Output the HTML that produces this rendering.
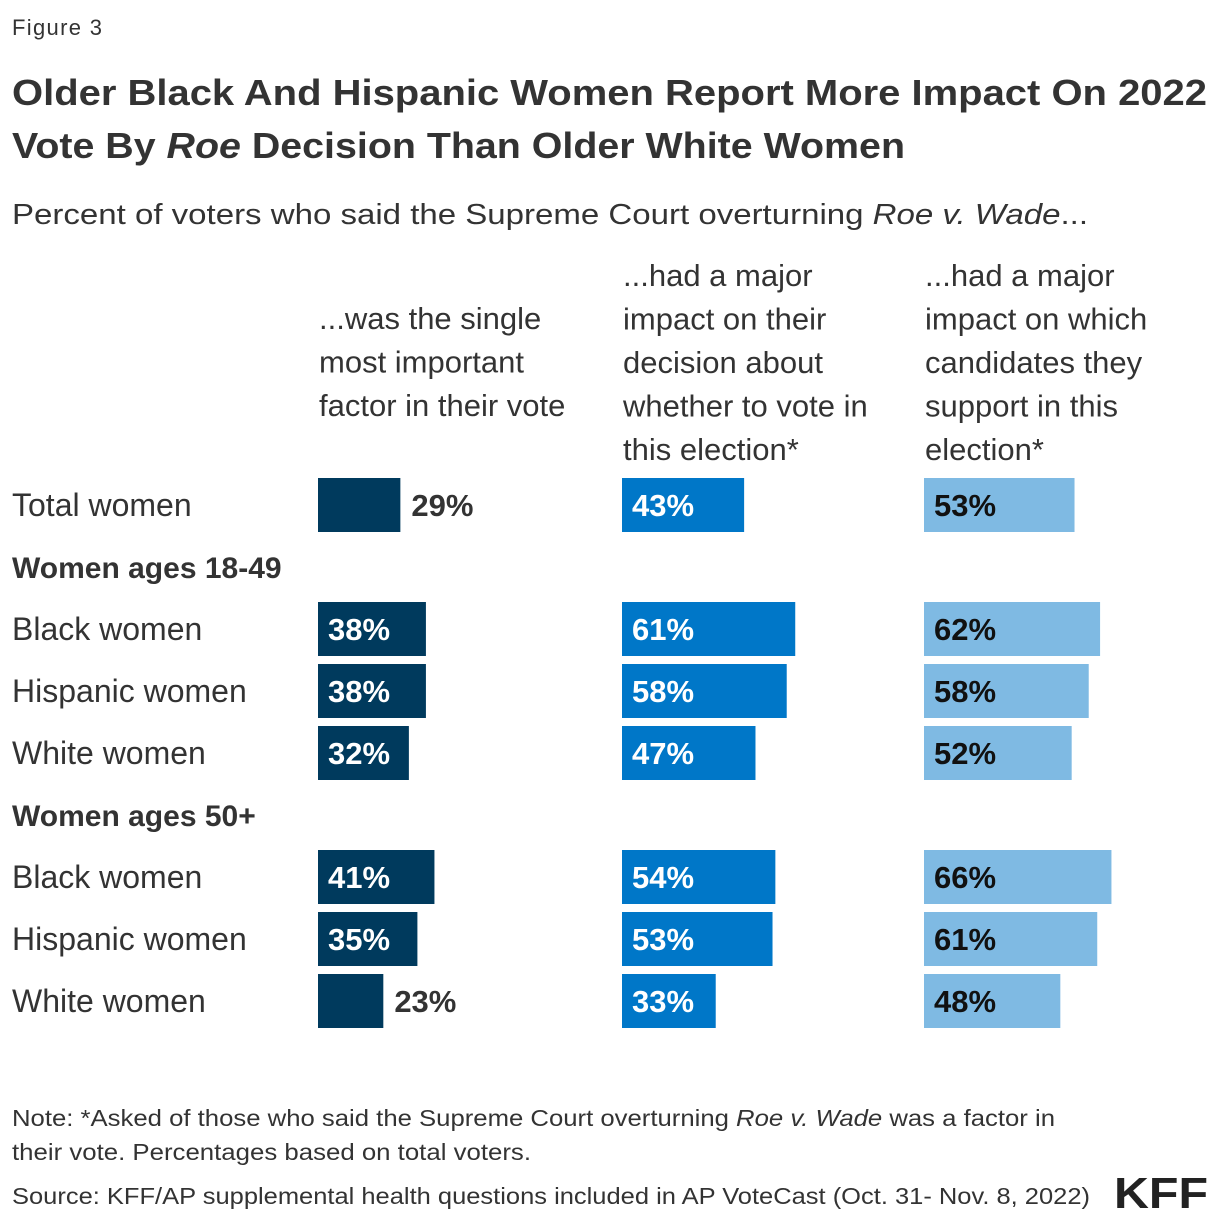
<!DOCTYPE html>
<html><head><meta charset="utf-8"><style>
html,body{margin:0;padding:0;background:#fff}
svg{display:block;font-family:"Liberation Sans",sans-serif}
</style></head><body>
<svg id="chart" width="1220" height="1222" viewBox="0 0 1220 1222" xmlns="http://www.w3.org/2000/svg">
<text x="12" y="35" font-size="22" fill="#333" textLength="90">Figure 3</text>
<text x="12" y="105" font-size="36" font-weight="bold" fill="#333" textLength="1195" lengthAdjust="spacingAndGlyphs">Older Black And Hispanic Women Report More Impact On 2022</text>
<text x="12" y="158" font-size="36" font-weight="bold" fill="#333" textLength="893" lengthAdjust="spacingAndGlyphs">Vote By <tspan font-style="italic">Roe</tspan> Decision Than Older White Women</text>
<text x="12" y="224" font-size="29" fill="#333" textLength="1076" lengthAdjust="spacingAndGlyphs">Percent of voters who said the Supreme Court overturning <tspan font-style="italic">Roe v. Wade</tspan>...</text>
<g id="headers" font-size="31" fill="#333"></g>
<g id="rows"></g>
<g id="bars"></g>
<text x="12" y="1126" font-size="23" fill="#333" textLength="1043" lengthAdjust="spacingAndGlyphs">Note: *Asked of those who said the Supreme Court overturning <tspan font-style="italic">Roe v. Wade</tspan> was a factor in</text>
<text x="12" y="1160" font-size="23" fill="#333" textLength="519" lengthAdjust="spacingAndGlyphs">their vote. Percentages based on total voters.</text>
<text x="12" y="1204" font-size="23" fill="#333" textLength="1078" lengthAdjust="spacingAndGlyphs">Source: KFF/AP supplemental health questions included in AP VoteCast (Oct. 31- Nov. 8, 2022)</text>
<text x="1114" y="1208" font-size="44" font-weight="bold" fill="#222" textLength="94" lengthAdjust="spacingAndGlyphs">KFF</text>
</svg>
<script>
const rowLabels = ["Total women","Women ages 18-49","Black women","Hispanic women","White women","Women ages 50+","Black women","Hispanic women","White women"];
const rowIsHeader = [false,true,false,false,false,true,false,false,false];
const singleFactor = [29,null,38,38,32,null,41,35,23];
const voteDecision = [43,null,61,58,47,null,54,53,33];
const candidateSupport = [53,null,62,58,52,null,66,61,48];
const seriesNames = ["single-factor","vote-decision","candidate-support"];
const headerLines = [
 ["...was the single","most important","factor in their vote"],
 ["...had a major","impact on their","decision about","whether to vote in","this election*"],
 ["...had a major","impact on which","candidates they","support in this","election*"]
];
const NS="http://www.w3.org/2000/svg";
const colX=[318,622,924], colors=["#003a5d","#0077c8","#7fbae3"], textCol=["#fff","#fff","#111"];
const headerBottom=[416,460,460];
const pxPer=2.84, rowTop=478, rowStep=62, barH=54;
const xScale=v=>v*pxPer, yRow=i=>rowTop+i*rowStep;
function mk(tag,attrs,parent){const e=document.createElementNS(NS,tag);for(const k in attrs)e.setAttribute(k,attrs[k]);parent.appendChild(e);return e;}
const hg=document.getElementById('headers');
headerLines.forEach((lines,c)=>{
 const base=headerBottom[c]-(lines.length-1)*43.5;
 lines.forEach((l,j)=>{
  const t=mk('text',{x:colX[c]+1,y:base+j*43.5},hg);
  
  
  t.textContent=l;
 });
});
const rg=document.getElementById('rows');
rowLabels.forEach((l,i)=>{
 const t=mk('text',{x:12,y:yRow(i)+barH/2+11,'font-size':rowIsHeader[i]?30:32,fill:'#333','font-weight':rowIsHeader[i]?'bold':'normal'},rg);
 
 
 t.textContent=l;
});
const bg=document.getElementById('bars');
[singleFactor,voteDecision,candidateSupport].forEach((arr,c)=>{
 arr.forEach((v,i)=>{
  if(v==null)return;
  const y=yRow(i), w=xScale(v);
  const r=mk('rect',{x:colX[c],y:y,width:w,height:barH,fill:colors[c]},bg);
  
  
  const inside=w>=88;
  const t=mk('text',{x:inside?colX[c]+10:colX[c]+w+11,y:y+barH/2+11,'font-size':31,'font-weight':'bold',fill:inside?textCol[c]:'#333'},bg);
  
  
  t.textContent=v+'%';
 });
});
</script>
</body></html>
